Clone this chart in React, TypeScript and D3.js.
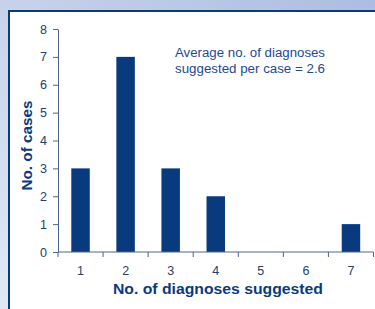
import React from 'react';
import * as d3 from 'd3';

const categories = ['1', '2', '3', '4', '5', '6', '7'];
const cases = [3, 7, 3, 2, 0, 0, 1];
const yTicks = [0, 1, 2, 3, 4, 5, 6, 7, 8];
const noteLines = ['Average no. of diagnoses', 'suggested per case = 2.6'];

const W = 375;
const H = 309;
const margin = { top: 29, right: 1, bottom: 57, left: 58 };
const navy = '#0a3a7e';
const textColor = '#233d6e';
const font = '"Liberation Sans", Arial, sans-serif';

export default function App() {
  const ref = React.useRef<SVGSVGElement>(null);

  React.useEffect(() => {
    const svg = d3.select(ref.current);
    svg.selectAll('*').remove();

    // background gradient + framed panel
    const defs = svg.append('defs');
    const grad = defs.append('linearGradient')
      .attr('id', 'bg').attr('x1', '0').attr('y1', '1').attr('x2', '1').attr('y2', '0');
    grad.append('stop').attr('offset', '0%').attr('stop-color', '#e2e8f5');
    grad.append('stop').attr('offset', '100%').attr('stop-color', '#adbde0');
    svg.append('rect').attr('width', W).attr('height', H).attr('fill', 'url(#bg)');
    svg.append('rect')
      .attr('x', 9).attr('y', 11).attr('width', W).attr('height', H)
      .attr('fill', '#fff').attr('stroke', '#0b3a78').attr('stroke-width', 2);

    const width = W - margin.left - margin.right;
    const height = H - margin.top - margin.bottom;
    const g = svg.append('g').attr('transform', `translate(${margin.left},${margin.top})`);

    const x = d3.scaleBand().domain(categories).range([0, width - 0.5]).padding(0);
    const y = d3.scaleLinear().domain([0, 8]).range([height, 0]);

    // bars
    const barW = x.bandwidth() * 0.41;
    g.selectAll('rect.bar')
      .data(cases)
      .enter().append('rect')
      .attr('class', 'bar')
      .attr('x', (d, i) => (x(categories[i]) as number) + (x.bandwidth() - barW) / 2)
      .attr('y', d => y(d))
      .attr('width', barW)
      .attr('height', d => height - y(d))
      .attr('fill', navy);

    const axisColor = '#4a6490';

    // y axis
    const yAxis = g.append('g')
      .call(d3.axisLeft(y).tickValues(yTicks).tickSize(5).tickSizeOuter(0).tickPadding(6));
    yAxis.select('.domain').attr('stroke', axisColor);
    yAxis.selectAll('line').attr('stroke', axisColor);
    yAxis.selectAll('text').attr('fill', textColor).style('font', `12.5px ${font}`);

    // x axis: ticks between categories
    const xAxis = g.append('g').attr('transform', `translate(0,${height})`);
    xAxis.append('line').attr('x1', 0).attr('x2', width - 0.5).attr('stroke', axisColor);
    const edges = categories.map(c => x(c) as number).concat([width - 0.5]);
    xAxis.selectAll('line.tick')
      .data(edges)
      .enter().append('line')
      .attr('class', 'tick')
      .attr('x1', d => d).attr('x2', d => d)
      .attr('y1', 0).attr('y2', 5)
      .attr('stroke', axisColor);
    xAxis.selectAll('text')
      .data(categories)
      .enter().append('text')
      .attr('x', d => (x(d) as number) + x.bandwidth() / 2)
      .attr('y', 23)
      .attr('text-anchor', 'middle')
      .attr('fill', textColor)
      .style('font', `12.5px ${font}`)
      .text(d => d);

    // axis titles
    svg.append('text')
      .attr('x', 218)
      .attr('y', 294)
      .attr('text-anchor', 'middle')
      .attr('fill', navy)
      .attr('textLength', 210)
      .attr('lengthAdjust', 'spacingAndGlyphs')
      .style('font', `bold 14px ${font}`)
      .text('No. of diagnoses suggested');

    svg.append('text')
      .attr('transform', `translate(32,${margin.top + height / 2 + 5}) rotate(-90)`)
      .attr('text-anchor', 'middle')
      .attr('fill', navy)
      .attr('textLength', 90)
      .attr('lengthAdjust', 'spacingAndGlyphs')
      .style('font', `bold 14.5px ${font}`)
      .text('No. of cases');

    // note
    svg.selectAll('text.note')
      .data(noteLines)
      .enter().append('text')
      .attr('class', 'note')
      .attr('x', 250)
      .attr('y', (d, i) => 57 + i * 16)
      .attr('text-anchor', 'middle')
      .attr('fill', '#1c4896')
      .attr('textLength', 150)
      .attr('lengthAdjust', 'spacingAndGlyphs')
      .style('font', `12.5px ${font}`)
      .text(d => d);
  }, []);

  return (
    <svg ref={ref} width={W} height={H} style={{ position: 'absolute', left: 0, top: 0, display: 'block' }} />
  );
}
